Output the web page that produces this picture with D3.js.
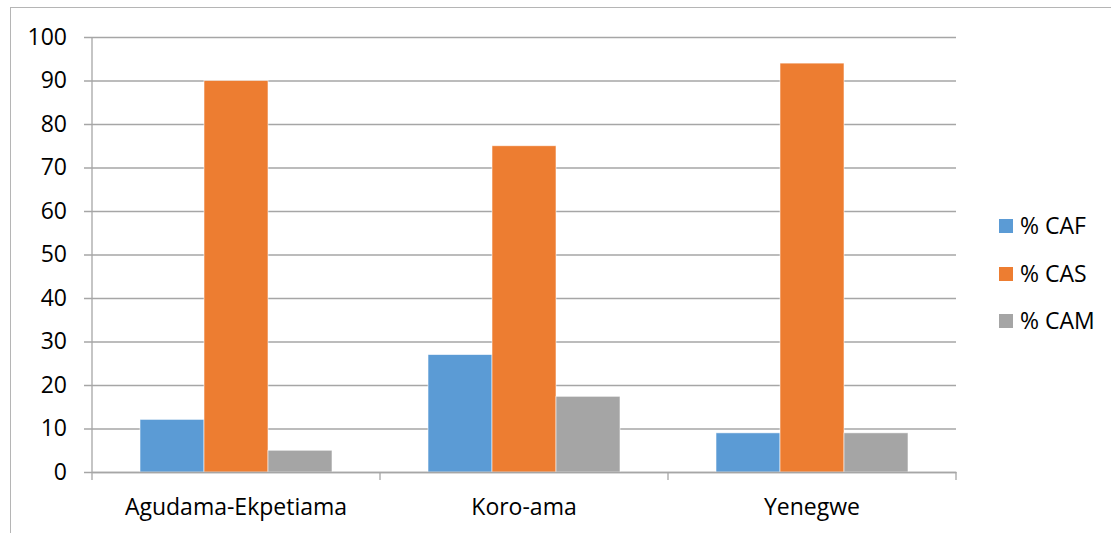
<!DOCTYPE html>
<html>
<head>
<meta charset="utf-8">
<script src="https://cdn.jsdelivr.net/npm/d3@7"></script>
<style>
  html, body { margin: 0; padding: 0; background: #fff; }
  svg { display: block; }
  text { font-family: "Open Sans", "Liberation Sans", sans-serif; fill: #000; }
</style>
</head>
<body>
<svg id="chart" width="1111" height="533"></svg>
<script>
// Sites along the x axis
const sites = ["Agudama-Ekpetiama", "Koro-ama", "Yenegwe"];
// Series (percent)
const seriesNames = ["% CAF", "% CAS", "% CAM"];
const cafValues = [12.1, 27, 9];
const casValues = [90, 75, 94];
const camValues = [5, 17.4, 9];
const seriesColors = ["#5B9BD5", "#ED7D31", "#A5A5A5"];
const yTicks = [0, 10, 20, 30, 40, 50, 60, 70, 80, 90, 100];

const seriesValues = [cafValues, casValues, camValues];
const rows = sites.map((s, i) => ({
  site: s,
  values: seriesNames.map((n, k) => ({ name: n, value: seriesValues[k][i], color: seriesColors[k] }))
}));

const FONT = 23;
const svg = d3.select("#chart");

// outer chart frame
svg.append("rect")
  .attr("x", 10.5).attr("y", 7.5)
  .attr("width", 1120).attr("height", 560)
  .attr("fill", "none").attr("stroke", "#b5b5b5").attr("stroke-width", 1);

const plot = { left: 92, right: 956, top: 37, bottom: 472 };

const x = d3.scaleBand().domain(sites).range([plot.left, plot.right]).paddingInner(0).paddingOuter(0);
const xInner = d3.scaleBand().domain(seriesNames).range([0, x.bandwidth()]).paddingInner(0).paddingOuter(0.75);
const y = d3.scaleLinear().domain([0, 100]).range([plot.bottom, plot.top]);

// horizontal gridlines with small tick stubs on the left
const yAxis = d3.axisLeft(y).tickValues(yTicks).tickSize(-(plot.right - plot.left)).tickFormat(d3.format("d"));
const gy = svg.append("g").attr("transform", `translate(${plot.left},0)`).call(yAxis);
gy.select(".domain").remove();
gy.selectAll(".tick line").attr("stroke", "#a6a6a6").attr("stroke-width", 1.3).attr("x1", -8);
gy.selectAll(".tick text").attr("font-size", FONT).attr("x", -25);

// vertical axis line
svg.append("line")
  .attr("x1", plot.left).attr("x2", plot.left)
  .attr("y1", plot.top).attr("y2", plot.bottom)
  .attr("stroke", "#a6a6a6").attr("stroke-width", 1.3);

// bars
const groups = svg.append("g").selectAll("g").data(rows).join("g")
  .attr("transform", d => `translate(${x(d.site)},0)`);
groups.selectAll("rect").data(d => d.values).join("rect")
  .attr("x", d => xInner(d.name))
  .attr("width", xInner.bandwidth())
  .attr("y", d => y(d.value))
  .attr("height", d => y(0) - y(d.value))
  .attr("fill", d => d.color)
  .attr("stroke", "#ffffff").attr("stroke-width", 0.8).attr("stroke-opacity", 0.7);

// category axis
const xAxis = d3.axisBottom(x).tickSize(0).tickPadding(27);
const gx = svg.append("g").attr("transform", `translate(0,${plot.bottom})`).call(xAxis);
gx.select(".domain").attr("stroke", "#a6a6a6").attr("stroke-width", 1.3);
gx.selectAll(".tick text").attr("font-size", FONT);
// category boundary ticks
const bounds = sites.map(s => x(s)).concat([x(sites[sites.length - 1]) + x.bandwidth()]);
gx.selectAll(".bound").data(bounds).join("line")
  .attr("class", "bound")
  .attr("x1", d => d).attr("x2", d => d)
  .attr("y1", 0).attr("y2", 8)
  .attr("stroke", "#a6a6a6").attr("stroke-width", 1.3);

// legend
const legend = svg.append("g").attr("transform", "translate(999,0)");
const legendY = [226, 274, 321];
const items = legend.selectAll("g").data(seriesNames).join("g")
  .attr("transform", (d, i) => `translate(0,${legendY[i]})`);
items.append("rect").attr("x", 0).attr("y", -7).attr("width", 14).attr("height", 14)
  .attr("fill", (d, i) => seriesColors[i]);
items.append("text").attr("x", 21).attr("dy", "0.35em").attr("font-size", FONT).text(d => d);
</script>
</body>
</html>
